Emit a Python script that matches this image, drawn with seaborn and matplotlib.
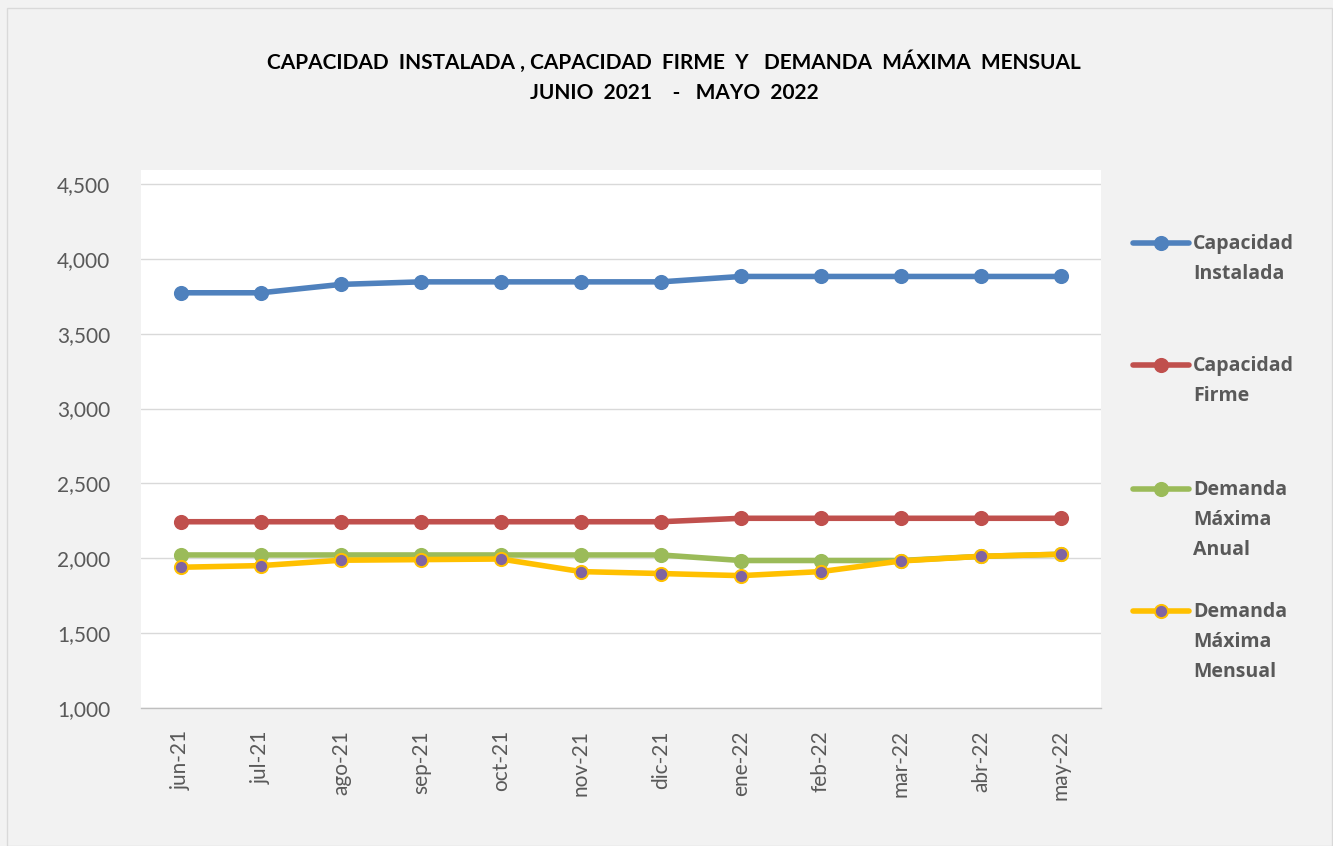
import matplotlib
matplotlib.use("Agg")
import matplotlib.pyplot as plt
from matplotlib.lines import Line2D
from matplotlib.patches import Rectangle
import seaborn as sns
import pandas as pd
import numpy as np

months = ["jun-21", "jul-21", "ago-21", "sep-21", "oct-21", "nov-21",
          "dic-21", "ene-22", "feb-22", "mar-22", "abr-22", "may-22"]
cap_instalada = [3773, 3773, 3829, 3846, 3846, 3846, 3846, 3882, 3882, 3882, 3882, 3882]
cap_firme = [2244, 2244, 2244, 2244, 2244, 2244, 2244, 2267, 2267, 2267, 2267, 2267]
dem_anual = [2022, 2022, 2022, 2022, 2022, 2022, 2022, 1985, 1985, 1985, 2013, 2027]
dem_mensual = [1940, 1951, 1987, 1991, 1995, 1911, 1898, 1884, 1911, 1982, 2013, 2027]
yticks = [1000, 1500, 2000, 2500, 3000, 3500, 4000, 4500]
title = "CAPACIDAD  INSTALADA , CAPACIDAD  FIRME  Y   DEMANDA  MÁXIMA  MENSUAL\nJUNIO  2021    -   MAYO  2022"
labels = [["Capacidad", "Instalada"], ["Capacidad", "Firme"],
          ["Demanda", "Máxima", "Anual"], ["Demanda", "Máxima", "Mensual"]]

sns.set_theme(style="white")
plt.rcParams['font.family'] = ['Lato', 'DejaVu Sans']

fig = plt.figure(figsize=(13.33, 8.46), dpi=100, facecolor="#F2F2F2")
fig.patches.append(Rectangle((0.005, 0.0), 0.994, 0.99, transform=fig.transFigure,
                             fill=False, edgecolor="#D9D9D9", linewidth=1.0))
ax = fig.add_axes([141/1333, 1-708/846, 960/1333, 538/846])
ax.set_facecolor("white")

x = np.arange(len(months))
df = pd.DataFrame({"x": x, "ci": cap_instalada, "cf": cap_firme,
                   "da": dem_anual, "dm": dem_mensual})

specs = [("ci", "#4F81BD", "#4F81BD", "#4F81BD"),
         ("cf", "#C0504D", "#C0504D", "#C0504D"),
         ("da", "#9BBB59", "#9BBB59", "#9BBB59"),
         ("dm", "#FFC000", "#8064A2", "#FFC000")]
handles = []
for col, lc, fc, ec in specs:
    sns.lineplot(data=df, x="x", y=col, ax=ax, color=lc, linewidth=4.0,
                 marker="o", markersize=9.5, markerfacecolor=fc,
                 markeredgecolor=ec, markeredgewidth=1.4, sort=False, legend=False)
    handles.append(Line2D([], [], color=lc, linewidth=4.0, marker="o", markersize=9.5,
                          markerfacecolor=fc, markeredgecolor=ec, markeredgewidth=1.4))

ax.set_xlim(-0.5, len(months) - 0.5)
ax.set_ylim(1000, 4593)
ax.set_yticks(yticks)
ax.set_yticklabels([f"{v:,}" for v in yticks], fontsize=15, color="#595959")
ax.set_xticks(x)
ax.set_xticklabels(months, rotation=90, fontsize=15, color="#595959")
ax.set_xticks(np.arange(-0.5, len(months), 1), minor=True)
ax.tick_params(axis="x", which="major", length=0, pad=16)
ax.tick_params(axis="x", which="minor", length=8, width=1, color="#BFBFBF", direction="out")
ax.tick_params(axis="y", length=0, pad=22)
ax.grid(axis="y", color="#D9D9D9", linewidth=1.0)
ax.set_axisbelow(True)
for s in ["top", "right", "left"]:
    ax.spines[s].set_visible(False)
ax.spines["bottom"].set_color("#BFBFBF")
ax.spines["bottom"].set_linewidth(1.0)
ax.set_xlabel("")
ax.set_ylabel("")

fig.text(674/1333, 1-77/846, title, ha="center", va="center", fontsize=15,
         fontweight="bold", color="black", linespacing=1.65)

# legend entries
entry_y = [244, 366, 490, 612]
for h, lab, yy in zip(handles, labels, entry_y):
    fig.legend([h], [""], loc="center left", bbox_to_anchor=(1133/1333, 1-yy/846),
               frameon=False, handlelength=2.9, handletextpad=0, borderpad=0,
               borderaxespad=0, fontsize=14)
    for i, line in enumerate(lab):
        fig.text(1193/1333, 1-(yy + i*30)/846, line, ha="left", va="center",
                 fontsize=14, fontweight="bold", color="#595959",
                 family=["Open Sans", "DejaVu Sans"])

fig.savefig("out.png", dpi=100, facecolor=fig.get_facecolor())
